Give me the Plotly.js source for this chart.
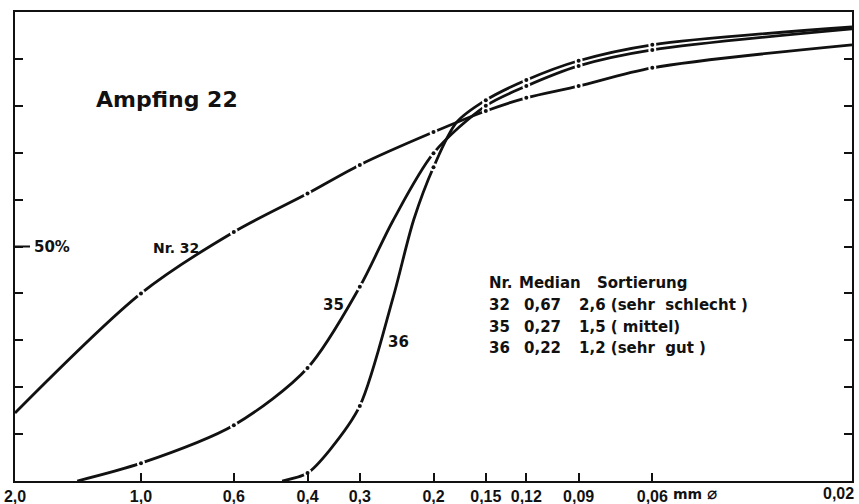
<!DOCTYPE html>
<html>
<head>
<meta charset="utf-8">
<script src="https://cdn.plot.ly/plotly-3.0.1.min.js"></script>
<style>html,body{margin:0;padding:0;background:#fff;}#chart{width:859px;height:504px;}</style>
</head>
<body>
<div id="chart"></div>
<script>
// Sieve sizes (mm) and tick labels
const sieve = [2.0, 1.0, 0.6, 0.4, 0.3, 0.2, 0.15, 0.12, 0.09, 0.06, 0.02];
const tickLabels = ["2,0", "1,0", "0,6", "0,4", "0,3", "0,2", "0,15", "0,12", "0,09", "0,06", "0,02"];
const unitLabel = "mm <span style=\"font-size:17px\">⌀</span>";

// Cumulative percentages (sieve points plus a few read curve points)
const d32 = [2.0, 1.0, 0.6, 0.4, 0.3, 0.2, 0.15, 0.12, 0.09, 0.06, 0.02];
const p32 = [14.5, 40.0, 53.1, 61.3, 67.4, 74.4, 78.9, 81.7, 84.2, 88.1, 93.0];
const d35 = [1.42, 1.0, 0.6, 0.4, 0.3, 0.25, 0.2, 0.15, 0.12, 0.09, 0.06, 0.02];
const p35 = [0, 3.8, 11.9, 24.1, 41.4, 55.5, 69.9, 80.0, 84.2, 88.5, 91.9, 96.4];
const d36 = [0.46, 0.4, 0.354, 0.3, 0.25, 0.223, 0.2, 0.176, 0.15, 0.12, 0.09, 0.06, 0.02];
const p36 = [0, 1.7, 6.6, 16.0, 39.0, 55.7, 66.9, 76.5, 81.2, 85.5, 89.6, 93.0, 96.8];

// Legend table
const tableHeader = ["Nr.", "Median", "Sortierung"];
const tableNr = ["32", "35", "36"];
const tableMedian = ["0,67", "0,27", "0,22"];
const tableSort = ["2,6 (sehr  schlecht )", "1,5 ( mittel)", "1,2 (sehr  gut )"];

const titleText = "Ampfing 22";
const curveLabels = ["Nr. 32", "35", "36"];
const yMarkLabel = "50%";

// measured sieve points that carry a dot (inside the frame)
const dotSieves = [1.0, 0.6, 0.4, 0.3, 0.2, 0.15, 0.12, 0.09, 0.06];
function dotsOf(d, p) {
  const x = [], y = [];
  d.forEach((v, i) => { if (dotSieves.indexOf(v) >= 0) { x.push(v); y.push(p[i]); } });
  return {x, y};
}

const curves = [[d32, p32], [d35, p35], [d36, p36]];
const traces = [];
curves.forEach(c => traces.push({
  x: c[0], y: c[1], mode: 'lines', type: 'scatter',
  line: {color: '#111', width: 2.8, shape: 'spline', smoothing: 0.85},
  hoverinfo: 'skip', showlegend: false
}));
curves.forEach(c => { const dd = dotsOf(c[0], c[1]); traces.push({
  x: dd.x, y: dd.y, mode: 'markers', type: 'scatter',
  marker: {color: '#fff', size: 8, line: {width: 0}}, hoverinfo: 'skip', showlegend: false
}); });
curves.forEach(c => { const dd = dotsOf(c[0], c[1]); traces.push({
  x: dd.x, y: dd.y, mode: 'markers', type: 'scatter',
  marker: {color: '#111', size: 4, line: {width: 0}}, hoverinfo: 'skip', showlegend: false
}); });

const L = 15, R = 852, T = 12, B = 481;
const px = v => (v - L) / (R - L);
const py = v => (B - v) / (B - T);
const txtFont = {family: 'DejaVu Sans', size: 15, weight: 'bold', color: '#111'};
const tickFont = {family: 'Liberation Sans', size: 16, weight: 'bold', color: '#111'};

const ann = [];
ann.push({text: titleText, x: px(167), y: py(99), xref: 'paper', yref: 'paper', xanchor: 'center', yanchor: 'middle', showarrow: false, font: {family: 'DejaVu Sans', size: 22, weight: 'bold', color: '#111'}});
ann.push({text: curveLabels[0], x: px(176), y: py(248), xref: 'paper', yref: 'paper', xanchor: 'center', yanchor: 'middle', showarrow: false, font: {family: 'DejaVu Sans', size: 14, weight: 'bold', color: '#111'}});
ann.push({text: curveLabels[1], x: px(333), y: py(305), xref: 'paper', yref: 'paper', xanchor: 'center', yanchor: 'middle', showarrow: false, font: {family: 'DejaVu Sans', size: 15, weight: 'bold', color: '#111'}});
ann.push({text: curveLabels[2], x: px(398), y: py(342), xref: 'paper', yref: 'paper', xanchor: 'center', yanchor: 'middle', showarrow: false, font: {family: 'DejaVu Sans', size: 15, weight: 'bold', color: '#111'}});
ann.push({text: yMarkLabel, x: px(32), y: 50, xref: 'paper', yref: 'y', xanchor: 'left', yanchor: 'middle', showarrow: false, font: {family: 'DejaVu Sans', size: 15, weight: 'bold', color: '#111'}});

const headX = [487, 517, 595];
tableHeader.forEach((h, i) => ann.push({text: h, x: px(headX[i]), y: py(283), xref: 'paper', yref: 'paper', xanchor: 'left', yanchor: 'middle', showarrow: false, font: txtFont}));
const rowY = [305, 327, 348];
const colX = [487, 522, 577];
tableNr.forEach((n, i) => {
  [n, tableMedian[i], tableSort[i]].forEach((t, j) => ann.push({text: t, x: px(colX[j]), y: py(rowY[i]), xref: 'paper', yref: 'paper', xanchor: 'left', yanchor: 'middle', showarrow: false, font: txtFont}));
});
ann.push({text: unitLabel, x: px(671), y: py(493), xref: 'paper', yref: 'paper', xanchor: 'left', yanchor: 'middle', showarrow: false, font: {family: 'DejaVu Sans', size: 14, weight: 'bold', color: '#111'}});
ann.push({text: tickLabels[10], x: px(856), y: py(494), xref: 'paper', yref: 'paper', xanchor: 'right', yanchor: 'middle', showarrow: false, font: tickFont});

const shownTicks = tickLabels.map((t, i) => i === 10 ? '' : t);

const layout = {
  width: 859, height: 504,
  margin: {l: L, r: 859 - R, t: T, b: 504 - B},
  paper_bgcolor: '#fff', plot_bgcolor: '#fff',
  showlegend: false,
  xaxis: {
    type: 'log', range: [Math.log10(2), Math.log10(0.02)],
    tickmode: 'array', tickvals: sieve, ticktext: shownTicks,
    ticks: 'inside', ticklen: 8, tickwidth: 2, tickcolor: '#111',
    showline: true, linewidth: 2, linecolor: '#111', mirror: true,
    showgrid: false, zeroline: false,
    tickfont: tickFont
  },
  yaxis: {
    range: [0, 100], tickmode: 'array', tickvals: [0, 10, 20, 30, 40, 50, 60, 70, 80, 90, 100],
    ticks: 'inside', ticklen: 8, tickwidth: 2, tickcolor: '#111',
    showticklabels: false, showline: true, linewidth: 2, linecolor: '#111', mirror: 'ticks',
    showgrid: false, zeroline: false
  },
  shapes: [{type: 'line', xref: 'paper', yref: 'y', x0: 0, x1: px(30), y0: 50, y1: 50, line: {color: '#111', width: 2}}],
  annotations: ann
};

Plotly.newPlot('chart', traces, layout, {displayModeBar: false, staticPlot: true});
</script>
</body>
</html>
